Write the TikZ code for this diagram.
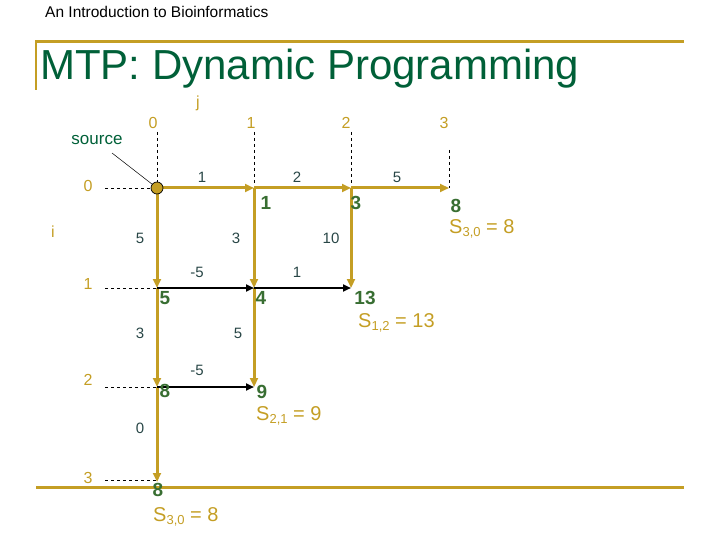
\documentclass[tikz,border=0pt]{standalone}
\usepackage{fontspec}
\setmainfont{Liberation Sans}
\usetikzlibrary{arrows.meta}
\definecolor{gold}{RGB}{196,158,36}
\definecolor{dgreen}{RGB}{0,96,56}
\definecolor{vgreen}{RGB}{56,110,50}
\definecolor{wcol}{RGB}{40,70,70}
\newcommand{\sbs}[1]{\raisebox{-0.3ex}{\fontsize{13}{15}\selectfont #1}}
\tikzset{
  lab/.style={text=gold,font=\fontsize{16}{18}\selectfont,inner sep=0},
  wt/.style={text=wcol,font=\fontsize{15}{17}\selectfont,inner sep=0},
  val/.style={text=vgreen,font=\bfseries\fontsize{19}{21}\selectfont,inner sep=0},
  sl/.style={text=gold,font=\fontsize{20}{22}\selectfont,inner sep=0,anchor=west},
  gedge/.style={gold,line width=3pt,-{Triangle[length=9pt,width=8pt]}},
  bedge/.style={black,line width=2pt,-{Triangle[length=8pt,width=7pt]}},
  dsh/.style={black,dashed,line width=0.6pt}
}
\begin{document}
\begin{tikzpicture}[x=1pt,y=-1pt]
\useasboundingbox (0,0) rectangle (720,540);
\node[anchor=west,inner sep=0,font=\fontsize{15.5}{17}\selectfont] (hdr) at (45,12) {An Introduction to Bioinformatics};
\draw[gold,line width=3pt] (35,42) -- (684,42);
\draw[gold,line width=2pt] (36,42) -- (36,90);
\draw[gold,line width=3pt] (36,487) -- (684,487);
\node[anchor=west,inner sep=0,text=dgreen,font=\fontsize{42}{46}\selectfont] (title) at (40,69) {MTP: Dynamic Programming};
\foreach \c/\x in {0/157,1/254,2/351,3/449}{
  \foreach \r/\y in {0/188,1/288,2/387,3/482}{
    \coordinate (n\r\c) at (\x,\y);
  }
}
\coordinate (d3) at (157,480);
\node[lab] (j) at (198,103) {j};
\node[lab] (c0) at (153,123) {0};
\node[lab] (c1) at (251,123) {1};
\node[lab] (c2) at (346,123) {2};
\node[lab] (c3) at (444,123) {3};
\draw[dsh] (157,132) -- (n00);
\draw[dsh] (254,132) -- (n01);
\draw[dsh] (351,132) -- (n02);
\draw[dsh] (449,150) -- (n03);
\node[lab] (i) at (53,232) {i};
\node[lab] (r0) at (88,186) {0};
\node[lab] (r1) at (88,284) {1};
\node[lab] (r2) at (88,380) {2};
\node[lab] (r3) at (88,478) {3};
\draw[dsh] (105,188) -- (n00);
\draw[dsh] (105,288) -- (n10);
\draw[dsh] (105,387) -- (n20);
\draw[dsh] (105,480) -- (d3);
\node[text=dgreen,font=\fontsize{17}{19}\selectfont,inner sep=1pt] (src) at (97,140) {source};
\draw[black,line width=0.5pt] (112,153) -- (n00);
\draw[gedge] (n00) -- (n01);
\draw[gedge] (n01) -- (n02);
\draw[gedge] (n02) -- (n03);
\draw[gedge] (n00) -- (n10);
\draw[gedge] (n10) -- (n20);
\draw[gedge] (n20) -- (n30);
\draw[gedge] (n01) -- (n11);
\draw[gedge] (n11) -- (n21);
\draw[gedge] (n02) -- (n12);
\draw[bedge] (n10) -- (n11);
\draw[bedge] (n11) -- (n12);
\draw[bedge] (n20) -- (n21);
\fill[gold,draw=black,line width=0.7pt] (n00) circle (6);
\node[wt] (w1) at (202,177) {1};
\node[wt] (w2) at (297,177) {2};
\node[wt] (w3) at (397,177) {5};
\node[wt] (w4) at (140,238) {5};
\node[wt] (w5) at (236,238) {3};
\node[wt] (w6) at (331,238) {10};
\node[wt] (w7) at (197,272) {-5};
\node[wt] (w8) at (297,272) {1};
\node[wt] (w9) at (140,333) {3};
\node[wt] (w10) at (238,333) {5};
\node[wt] (w11) at (197,370) {-5};
\node[wt] (w12) at (140,428) {0};
\node[val] (v01) at (266,203) {1};
\node[val] (v02) at (356,203) {3};
\node[val] (v03) at (456,206) {8};
\node[val] (v10) at (165,298) {5};
\node[val] (v11) at (261,298) {4};
\node[val] (v12) at (365,298) {13};
\node[val] (v20) at (165,391) {8};
\node[val] (v21) at (262,392) {9};
\node[val] (v30) at (158,490) {8};
\node[sl] (s1) at (449,229) {S\sbs{3,0} = 8};
\node[sl] (s2) at (358,323) {S\sbs{1,2} = 13};
\node[sl] (s3) at (256,416) {S\sbs{2,1} = 9};
\node[sl] (s4) at (153,517) {S\sbs{3,0} = 8};
\end{tikzpicture}
\end{document}
